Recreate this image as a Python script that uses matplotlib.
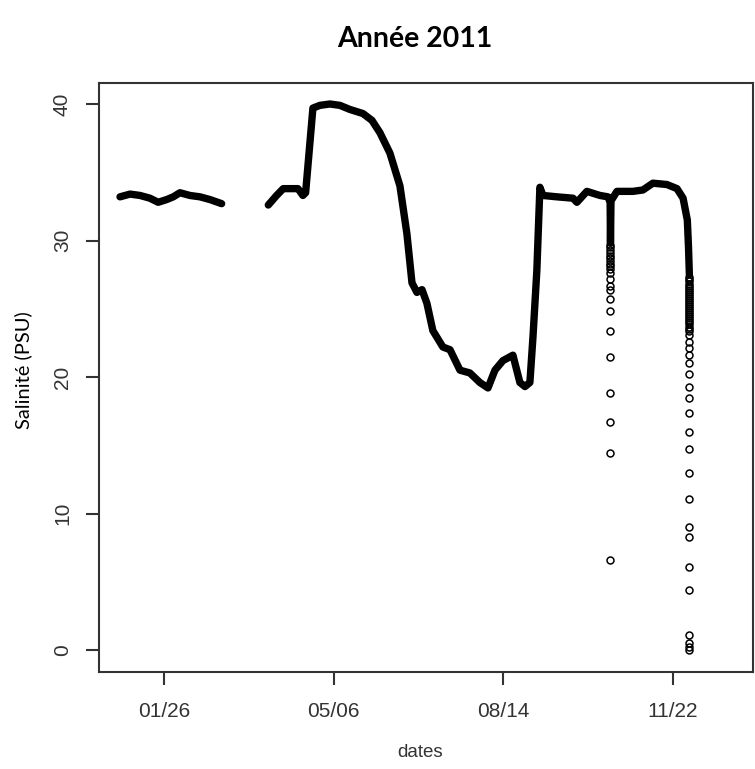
import numpy as np
import matplotlib.pyplot as plt

# days since 2011-01-01, salinity in PSU
days = [-0.9, 5.0, 10.9, 16.7, 21.6, 26.6, 30.5, 34.4, 40.3, 46.2, 52.1, 59.0,
        np.nan,
        86.5, 91.4, 95.3, 104.0, 106.9, 108.5, 112.8, 116.9, 122.8, 128.7, 134.6,
        142.3, 147.6, 152.3, 158.2, 164.1, 168.2, 171.2, 174.1, 177.1, 180.0,
        183.5, 189.4, 193.6, 199.5, 205.3, 211.2, 216.0, 220.1, 224.8, 230.7,
        234.8, 237.8, 240.7, 242.5, 244.8, 246.6, 248.4, 256.6, 266.1, 268.4,
        274.3, 282.0, 286.7, 288.0, 288.2, 288.5, 292.0, 301.4, 307.3, 313.2,
        321.5, 327.4, 331.0, 333.5, 334.2, 334.7]
salin = [33.2, 33.4, 33.3, 33.1, 32.8, 33.0, 33.2, 33.5, 33.3, 33.2, 33.0, 32.7,
         np.nan,
         32.6, 33.3, 33.8, 33.8, 33.3, 33.5, 39.7, 39.9, 40.0, 39.9, 39.6,
         39.3, 38.8, 37.9, 36.4, 34.0, 30.5, 26.9, 26.2, 26.4, 25.4,
         23.4, 22.2, 22.0, 20.5, 20.3, 19.6, 19.2, 20.5, 21.2, 21.6,
         19.6, 19.3, 19.6, 22.9, 27.8, 33.9, 33.3, 33.2, 33.1, 32.8,
         33.6, 33.3, 33.2, 32.8, 29.8, 32.9, 33.6, 33.6, 33.7, 34.2,
         34.1, 33.8, 33.1, 31.5, 29.5, 27.5]

# isolated low readings (two sensor drops)
drop1_day = 288.2
drop1_val = [29.7, 29.5, 29.3, 29.1, 28.9, 28.7, 28.5, 28.3, 28.1, 27.9,
             27.6, 27.2, 26.7, 26.4, 25.7, 24.8, 23.4, 21.5, 18.8, 16.7, 14.4, 6.6]
drop2_day = 334.7
drop2_val = [27.3, 27.15, 27.0, 26.85, 26.7, 26.55, 26.4, 26.25, 26.1, 25.95,
             25.8, 25.65, 25.5, 25.35, 25.2, 25.05, 24.9, 24.75, 24.6, 24.45,
             24.3, 24.15, 24.0, 23.85, 23.7, 23.55, 23.4,
             23.1, 22.6, 22.1, 21.6, 21.0, 20.2, 19.3, 18.5, 17.4, 16.0, 14.7,
             13.0, 11.1, 9.0, 8.3, 6.1, 4.4, 1.1, 0.5, 0.2, 0.0]

tick_days = [25, 125, 225, 325]
tick_labels = ['01/26', '05/06', '08/14', '11/22']


def main():
    fig = plt.figure(figsize=(7.55, 7.69), dpi=100)
    ax = fig.add_axes([0.1311, 0.1261, 0.866, 0.766])

    ax.plot(days, salin, color='black', lw=5.3,
            solid_capstyle='round', solid_joinstyle='round')
    ax.plot([drop1_day] * len(drop1_val), drop1_val, 'o', mfc='none',
            mec='black', ms=5.0, mew=1.1)
    ax.plot([drop2_day] * len(drop2_val), drop2_val, 'o', mfc='none',
            mec='black', ms=5.0, mew=1.1)

    ax.set_xlim(-13.3, 372.1)
    ax.set_ylim(-1.61, 41.54)
    ax.set_xticks(tick_days)
    ax.set_xticklabels(tick_labels)
    ax.set_yticks([0, 10, 20, 30, 40])

    for s in ax.spines.values():
        s.set_color('#333333')
        s.set_linewidth(1.5)
    ax.tick_params(direction='out', length=9.5, width=1.5, color='#333333',
                   labelsize=15, labelcolor='#333333')
    ax.tick_params(axis='x', pad=12)
    ax.tick_params(axis='y', pad=10, labelrotation=90)
    for lab in ax.get_xticklabels() + ax.get_yticklabels():
        lab.set_family('Liberation Sans')
    for lab in ax.get_yticklabels():
        lab.set_va('center')

    fig.text(0.55, 0.949, 'Année 2011', family='Lato', weight='bold',
             fontsize=20.5, ha='center', va='center')
    fig.text(0.031, 0.519, 'Salinité (PSU)', family='Lato', fontsize=14.5,
             rotation=90, ha='center', va='center')
    fig.text(0.556, 0.022, 'dates', family='Liberation Sans', fontsize=13.5,
             color='#333333', ha='center', va='center')

    fig.savefig('out.png', dpi=100)


if __name__ == "__main__":
    main()
